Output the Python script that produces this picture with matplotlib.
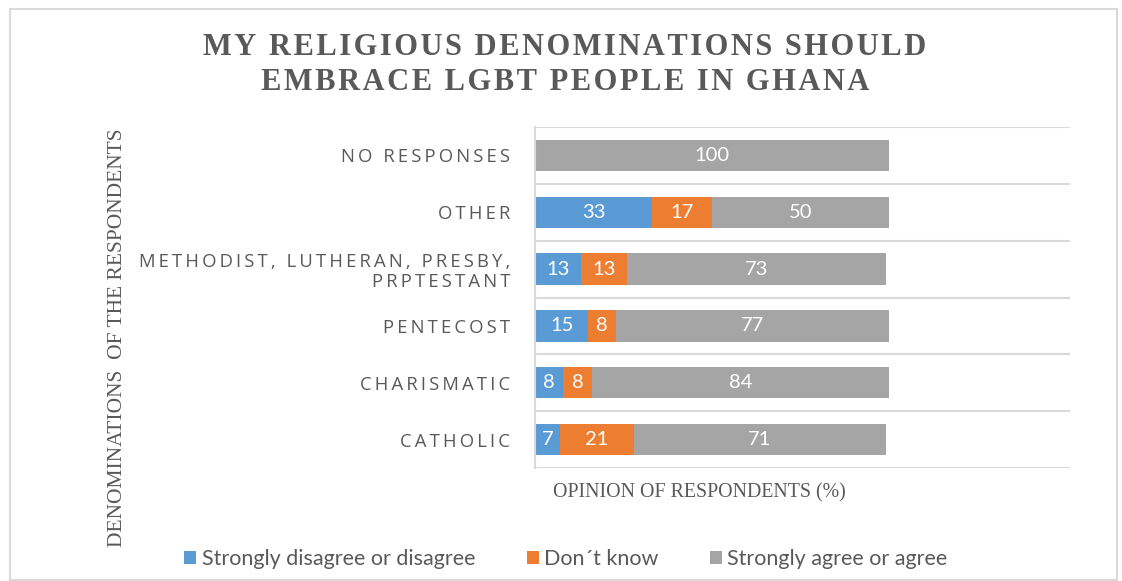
import numpy as np
import matplotlib.pyplot as plt
from matplotlib.patches import Rectangle

# data (bottom to top)
categories = ["CATHOLIC", "CHARISMATIC", "PENTECOST",
              "METHODIST, LUTHERAN, PRESBY,\nPRPTESTANT", "OTHER", "NO RESPONSES"]
disagree = [7, 8, 15, 13, 33, 0]
dont_know = [21, 8, 8, 13, 17, 0]
agree = [71, 84, 77, 73, 50, 100]
series_names = ["Strongly disagree or disagree", "Don\u00b4t know", "Strongly agree or agree"]
colors = ["#5B9BD5", "#ED7D31", "#A5A5A5"]
txt_col = "#595959"


def spaced(s, sep="\u200a"):
    # fake letter spacing
    return "\n".join(sep.join(line) for line in s.split("\n"))


fig = plt.figure(figsize=(11.22, 5.81), dpi=100)
fig.patches.append(Rectangle((10 / 1122, 0.002), 1107 / 1122, 1 - 10 / 581,
                             transform=fig.transFigure, fill=False,
                             edgecolor="#D9D9D9", linewidth=1.5))

ax = fig.add_axes([535 / 1122, 1 - 468 / 581, 535 / 1122, 341 / 581])
y = np.arange(len(categories))
left = np.zeros(len(categories))
for vals, name, c in zip([disagree, dont_know, agree], series_names, colors):
    vals = np.array(vals, dtype=float)
    bars = ax.barh(y, vals, left=left, height=0.55, color=c, label=name)
    for b, v in zip(bars, vals):
        if v > 0:
            ax.text(b.get_x() + b.get_width() / 2, b.get_y() + b.get_height() / 2,
                    f"{v:g}", ha="center", va="center", color="white",
                    fontsize=14.5, family="Lato")
    left += vals

ax.set_xlim(0, 151)
ax.set_ylim(-0.5, len(categories) - 0.5)
ax.set_xticks([])
ax.set_yticks(y)
ax.set_yticklabels([spaced(c, "\u2009") for c in categories], family="Open Sans",
                   fontsize=13.3, color=txt_col, linespacing=1.15)
ax.tick_params(axis="y", length=0, pad=18)
for yy in np.arange(-0.5, len(categories), 1.0):
    ax.axhline(yy, color="#D9D9D9", linewidth=1.5, zorder=0)
for s in ["top", "right", "bottom"]:
    ax.spines[s].set_visible(False)
ax.spines["left"].set_color("#D9D9D9")
ax.spines["left"].set_linewidth(1.5)

fig.text(565 / 1122, 1 - 65 / 581,
         spaced("MY RELIGIOUS DENOMINATIONS SHOULD\nEMBRACE LGBT PEOPLE IN GHANA"),
         ha="center", va="center", family="Liberation Serif", fontweight="bold",
         fontsize=22, color=txt_col, linespacing=1.3)
fig.text(553 / 1122, 1 - 493 / 581, "OPINION OF RESPONDENTS (%)", ha="left",
         va="center", family="Liberation Serif", fontsize=14.3, color=txt_col)
fig.text(118 / 1122, 1 - 338 / 581, "DENOMINATIONS  OF THE RESPONDENTS",
         rotation=90, ha="center", va="center", family="Liberation Serif",
         fontsize=15.5, color=txt_col)

fig.legend(loc="center", bbox_to_anchor=(566 / 1122, 1 - 559 / 581), ncol=3,
           frameon=False, prop={"family": "Lato", "size": 15.5},
           labelcolor=txt_col, handlelength=0.55, handleheight=0.55,
           handletextpad=0.25, columnspacing=2.4)

fig.savefig("out.png", dpi=100)
